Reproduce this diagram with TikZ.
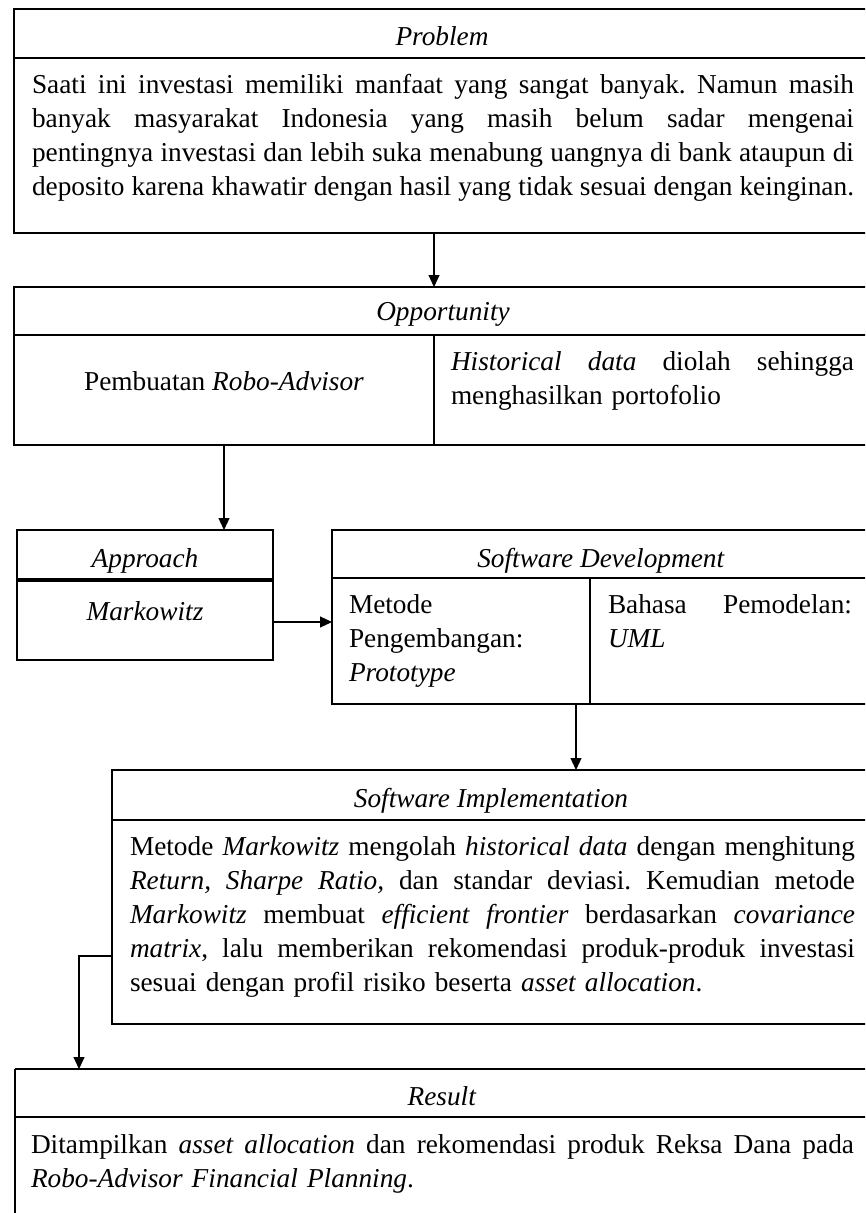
\documentclass[tikz,border=0pt]{standalone}
\usepackage{fontspec}
\setmainfont{Liberation Serif}
\usetikzlibrary{arrows.meta}
\frenchspacing
\newcommand\bodyfnt{\fontsize{27.3}{34}\selectfont}
\newcommand\jfull[1]{\makebox[\hsize][s]{\spaceskip=.25em plus 1.5em minus .13em\relax #1}}
\newcommand\jl[1]{\jfull{#1}\\}
\begin{document}
\begin{tikzpicture}[x=1pt,y=-1pt,
  every node/.style={inner sep=0pt, outer sep=0pt, font=\bodyfnt},
  boxs/.style={draw, line width=2.2pt, anchor=north west},
  sepline/.style={line width=2.2pt},
  thicksep/.style={line width=4.5pt},
  arr/.style={line width=1.2pt, -{Triangle[length=12pt,width=11pt]}},
  para/.style={anchor=base west, align=left}
]
\useasboundingbox (0,0) rectangle (865,1213);
\fill[white] (0,0) rectangle (865,1213);
\clip (0,0) rectangle (865,1213);

% boxes
\node[boxs, minimum width=856pt, minimum height=224pt] (prob) at (14,9) {};
\node[boxs, minimum width=856pt, minimum height=158pt] (opp) at (14,287) {};
\node[boxs, minimum width=256pt, minimum height=130pt] (appr) at (17,530) {};
\node[boxs, minimum width=538pt, minimum height=174pt] (sd) at (332,530) {};
\node[boxs, minimum width=758pt, minimum height=254pt] (si) at (112,770) {};
\node[anchor=north west, minimum width=855pt, minimum height=180pt] (res) at (15,1069) {};
\draw[sepline] (res.north west) -- (res.south west);
\draw[sepline] (res.north east) -- (res.south east);
\draw[line width=1.4pt] (res.north west) -- (res.north east);

% header separators and dividers
\draw[sepline] ([yshift=-49pt]prob.north west) -- ([yshift=-49pt]prob.north east);
\draw[sepline] ([yshift=-48pt]opp.north west) -- ([yshift=-48pt]opp.north east);
\draw[sepline] ([xshift=420pt,yshift=-48pt]opp.north west) -- ([xshift=420pt]opp.south west);
\draw[thicksep] ([yshift=-50pt]appr.north west) -- ([yshift=-50pt]appr.north east);
\draw[sepline] ([yshift=-48pt]sd.north west) -- ([yshift=-48pt]sd.north east);
\draw[sepline] ([xshift=258pt,yshift=-48pt]sd.north west) -- ([xshift=258pt]sd.south west);
\draw[sepline] ([yshift=-50pt]si.north west) -- ([yshift=-50pt]si.north east);
\draw[sepline] ([yshift=-48pt]res.north west) -- ([yshift=-48pt]res.north east);

% texts
\node[anchor=base] (probh) at (442,45) {\textit{Problem}};
\node[para, text width=822pt] (probt) at (32,93) {%
\jl{Saati ini investasi memiliki manfaat yang sangat banyak. Namun masih}%
\jl{banyak masyarakat Indonesia yang masih belum sadar mengenai}%
\jl{pentingnya investasi dan lebih suka menabung uangnya di bank ataupun di}%
\jfull{deposito karena khawatir dengan hasil yang tidak sesuai dengan keinginan.}};

\node[anchor=base] (opph) at (443,320) {\textit{Opportunity}};
\node[anchor=base] (oppl) at (224,390) {Pembuatan \textit{Robo-Advisor}};
\node[para, text width=403pt] (oppr) at (451,370) {%
\jl{\textit{Historical data} diolah sehingga}%
menghasilkan portofolio};

\node[anchor=base] (apprh) at (145,567) {\textit{Approach}};
\node[anchor=base] (apprt) at (145,620) {\textit{Markowitz}};

\node[anchor=base] (sdh) at (601,567) {\textit{Software Development}};
\node[para, text width=230pt] (sdl) at (349,613) {Metode\\Pengembangan:\\\textit{Prototype}};
\node[para, text width=244pt] (sdr) at (608,613) {%
\jl{Bahasa Pemodelan:}%
\textit{UML}};

\node[anchor=base] (sih) at (491,807) {\textit{Software Implementation}};
\node[para, text width=725pt] (sit) at (130,855) {%
\jl{Metode \textit{Markowitz} mengolah \textit{historical data} dengan menghitung}%
\jl{\textit{Return, Sharpe Ratio,} dan standar deviasi. Kemudian metode}%
\jl{\textit{Markowitz} membuat \textit{efficient frontier} berdasarkan \textit{covariance}}%
\jl{\textit{matrix}, lalu memberikan rekomendasi produk-produk investasi}%
sesuai dengan profil risiko beserta \textit{asset allocation}.};

\node[anchor=base] (resh) at (442,1105) {\textit{Result}};
\node[para, text width=823pt] (rest) at (31,1153) {%
\jl{Ditampilkan \textit{asset allocation} dan rekomendasi produk Reksa Dana pada}%
\textit{Robo-Advisor Financial Planning}.};

% connectors
\coordinate (k1) at (434,0);
\coordinate (k2) at (224,0);
\coordinate (k3) at (0,622);
\coordinate (k4) at (576,0);
\coordinate (k5) at (79,956);
\draw[arr] (prob.south -| k1) -- (opp.north -| k1);
\draw[arr] (opp.south -| k2) -- (appr.north -| k2);
\draw[arr] (appr.east |- k3) -- (sd.west |- k3);
\draw[arr] (sd.south -| k4) -- (si.north -| k4);
\draw[arr] (si.west |- k5) -| (res.north -| k5);
\end{tikzpicture}
\end{document}
